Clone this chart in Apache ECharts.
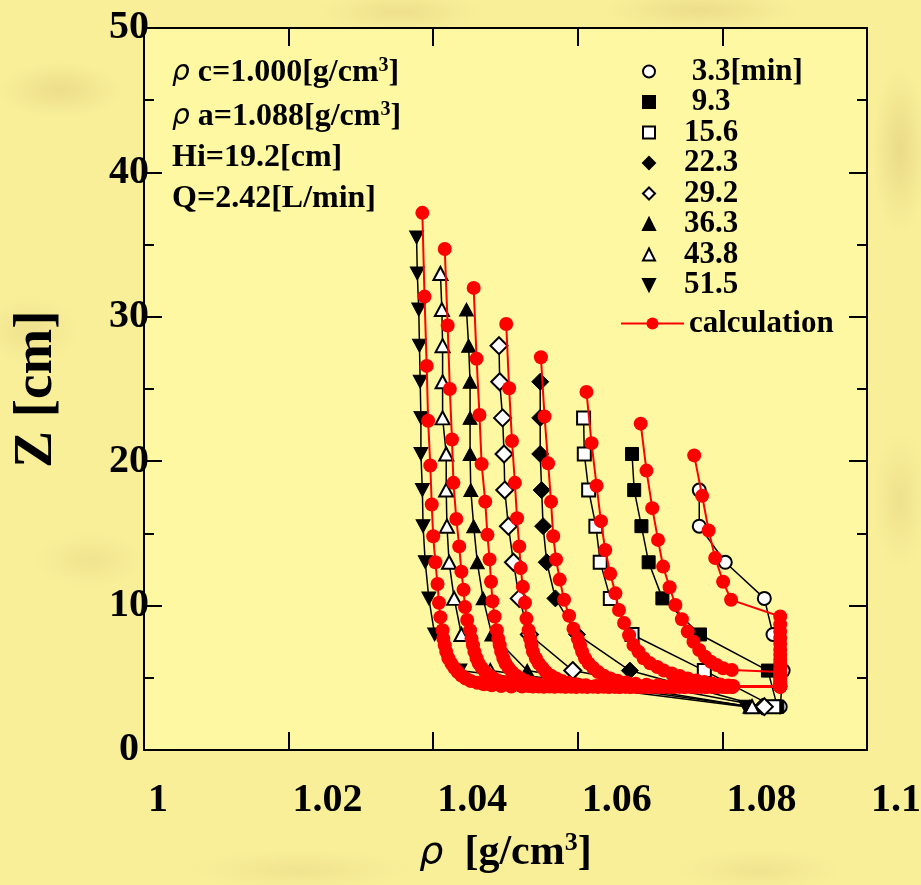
<!DOCTYPE html>
<html>
<head>
<meta charset="utf-8">
<script src="https://cdn.jsdelivr.net/npm/echarts@6/dist/echarts.min.js"></script>
<style>
html, body { margin: 0; padding: 0; }
body {
  width: 921px; height: 885px; overflow: hidden;
  background-color: #f9ef99;
  background-image:
    radial-gradient(ellipse 90px 40px at 60px 90px, rgba(220,200,120,.45), transparent 70%),
    radial-gradient(ellipse 70px 50px at 30px 330px, rgba(225,205,125,.4), transparent 70%),
    radial-gradient(ellipse 80px 40px at 90px 560px, rgba(225,205,125,.35), transparent 70%),
    radial-gradient(ellipse 120px 30px at 400px 12px, rgba(220,200,120,.4), transparent 70%),
    radial-gradient(ellipse 140px 30px at 700px 10px, rgba(220,200,120,.45), transparent 70%),
    radial-gradient(ellipse 40px 120px at 900px 150px, rgba(215,195,115,.45), transparent 70%),
    radial-gradient(ellipse 40px 100px at 900px 500px, rgba(220,200,120,.35), transparent 70%),
    radial-gradient(ellipse 160px 30px at 300px 870px, rgba(225,205,125,.35), transparent 70%),
    radial-gradient(ellipse 120px 30px at 760px 870px, rgba(225,205,125,.35), transparent 70%);
}
#chart { width: 921px; height: 885px; }
</style>
</head>
<body>
<div id="chart"></div>
<script>
// 图例名称（时间）
const times = ['3.3[min]', '9.3', '15.6', '22.3', '29.2', '36.3', '43.8', '51.5'];

// 实验数据 [ρ, Z]
const exp33 = [[1.0768,18.0],[1.0768,15.5],[1.0804,13.0],[1.0858,10.5],[1.0870,8.0],[1.0884,5.5],[1.0880,3.0]];
const exp93 = [[1.0675,20.5],[1.0678,18.0],[1.0688,15.5],[1.0698,13.0],[1.0717,10.5],[1.0769,8.0],[1.0863,5.5],[1.0876,3.0]];
const exp156 = [[1.0608,23.0],[1.0609,20.5],[1.0615,18.0],[1.0625,15.5],[1.0631,13.0],[1.0645,10.5],[1.0675,8.0],[1.0775,5.5],[1.0871,3.0]];
const exp223 = [[1.0548,25.5],[1.0548,23.0],[1.0548,20.5],[1.0550,18.0],[1.0552,15.5],[1.0557,13.0],[1.0569,10.5],[1.0599,8.0],[1.0672,5.5],[1.0855,3.0]];
const exp292 = [[1.0491,28.0],[1.0492,25.5],[1.0496,23.0],[1.0498,20.5],[1.0499,18.0],[1.0504,15.5],[1.0511,13.0],[1.0519,10.5],[1.0533,8.0],[1.0593,5.5],[1.0858,3.0]];
const exp363 = [[1.0446,30.5],[1.0449,28.0],[1.0451,25.5],[1.0451,23.0],[1.0451,20.5],[1.0452,18.0],[1.0456,15.5],[1.0461,13.0],[1.0469,10.5],[1.0481,8.0],[1.0530,5.5],[1.0838,3.0]];
const exp438 = [[1.0410,33.0],[1.0412,30.5],[1.0413,28.0],[1.0413,25.5],[1.0413,23.0],[1.0418,20.5],[1.0418,18.0],[1.0419,15.5],[1.0422,13.0],[1.0429,10.5],[1.0439,8.0],[1.0479,5.5],[1.0841,3.0]];
const exp515 = [[1.0377,35.5],[1.0378,33.0],[1.0380,30.5],[1.0381,28.0],[1.0382,25.5],[1.0383,23.0],[1.0383,20.5],[1.0385,18.0],[1.0386,15.5],[1.0389,13.0],[1.0394,10.5],[1.0402,8.0],[1.0437,5.5],[1.0832,3.0]];

// 计算值 [ρ, Z]
const calc33 = [[1.0761,20.4],[1.0772,17.6],[1.0781,15.2],[1.0790,13.3],[1.0801,11.65],[1.0812,10.4],
  [1.0880,9.25],[1.0880,8.7],[1.0880,8.2],[1.0880,7.75],[1.0880,7.35],[1.0880,6.95],[1.0880,6.6],[1.0880,6.25],
  [1.0880,5.95],[1.0880,5.65],[1.0880,5.4],[1.0880,5.15],[1.0880,4.95],[1.0880,4.75],[1.0880,4.6],[1.0880,4.48],[1.0880,4.4]];
const calc93 = [[1.0687,22.6],[1.0695,19.35],[1.0703,16.75],[1.0711,14.55],[1.0718,12.7],[1.0727,11.27],[1.0735,10.04],
  [1.0744,9.05],[1.0752,8.2],[1.0760,7.5],[1.0768,6.93],[1.0776,6.46],[1.0784,6.11],[1.0792,5.89],[1.0801,5.66],[1.0813,5.54],[1.0880,5.4]];
const calc156 = [[1.0612,24.8],[1.0619,21.25],[1.0626,18.3],[1.0632,15.85],[1.0638,13.85],[1.0645,12.2],[1.0652,10.85],
  [1.0657,9.7],[1.0664,8.8],[1.0671,7.95],[1.0677,7.27],[1.0684,6.8],[1.0691,6.35],[1.0700,6.0],[1.0710,5.75],[1.0719,5.5],
  [1.0730,5.3],[1.0741,5.12],[1.0752,4.95],[1.0764,4.81],[1.0775,4.71],[1.0786,4.6],[1.0797,4.54],[1.0808,4.47],[1.0815,4.43],[1.0880,4.42]];
const calc223 = [[1.0549,27.2],[1.0554,23.1],[1.0559,19.85],[1.0563,17.2],[1.0566,14.8],[1.0570,13.2],[1.0575,11.8],[1.0581,10.4],
  [1.0588,9.3],[1.0594,8.4],[1.0600,7.7],[1.0603,7.25],[1.0606,6.8],[1.0610,6.35],[1.0615,6.0],[1.0621,5.7],[1.0628,5.4],
  [1.0636,5.15],[1.0645,4.95],[1.0655,4.8],[1.0667,4.68],[1.0680,4.58],[1.0695,4.52],[1.0711,4.48],[1.0728,4.45],
  [1.0743,4.44],[1.0758,4.43],[1.0773,4.43],[1.0788,4.43],[1.0801,4.43],[1.0812,4.43],[1.0880,4.42]];
const calc292 = [[1.0501,29.5],[1.0505,25.05],[1.0509,21.4],[1.0513,18.5],[1.0516,16.05],[1.0519,14.1],[1.0521,12.6],[1.0524,11.3],
  [1.0527,10.2],[1.0529,9.1],[1.0532,8.3],[1.0534,7.7],[1.0536,7.25],[1.0538,6.8],[1.0542,6.35],[1.0546,6.0],[1.0551,5.7],
  [1.0556,5.4],[1.0563,5.15],[1.0570,4.95],[1.0578,4.78],[1.0587,4.65],[1.0598,4.55],[1.0611,4.48],[1.0625,4.43],[1.0641,4.41],
  [1.0656,4.4],[1.0671,4.4],[1.0686,4.39],[1.0701,4.39],[1.0716,4.39],[1.0731,4.39],[1.0746,4.39],[1.0761,4.39],[1.0776,4.39],
  [1.0791,4.39],[1.0804,4.39],[1.0814,4.39],[1.0880,4.4]];
const calc363 = [[1.0456,32.0],[1.0460,27.1],[1.0464,23.2],[1.0467,19.8],[1.0472,17.2],[1.0475,14.9],[1.0478,13.2],[1.0480,11.65],
  [1.0482,10.3],[1.0485,9.25],[1.0488,8.3],[1.0490,7.7],[1.0492,7.25],[1.0494,6.8],[1.0497,6.35],[1.0500,6.0],[1.0504,5.7],
  [1.0509,5.4],[1.0515,5.15],[1.0521,4.95],[1.0528,4.78],[1.0536,4.65],[1.0546,4.55],[1.0557,4.48],[1.0569,4.43],[1.0583,4.4],
  [1.0598,4.39],[1.0613,4.39],[1.0628,4.39],[1.0643,4.38],[1.0658,4.38],[1.0673,4.38],[1.0688,4.38],[1.0703,4.38],[1.0718,4.38],
  [1.0733,4.38],[1.0748,4.38],[1.0763,4.38],[1.0778,4.38],[1.0793,4.38],[1.0806,4.38],[1.0814,4.38],[1.0880,4.39]];
const calc438 = [[1.0416,34.7],[1.0420,29.4],[1.0423,25.0],[1.0426,21.5],[1.0428,18.5],[1.0432,16.0],[1.0436,14.1],[1.0439,12.35],
  [1.0442,11.1],[1.0444,9.9],[1.0447,9.0],[1.0451,8.3],[1.0453,7.7],[1.0455,7.25],[1.0457,6.8],[1.0460,6.35],[1.0463,6.0],
  [1.0467,5.7],[1.0472,5.4],[1.0478,5.15],[1.0484,4.95],[1.0491,4.78],[1.0499,4.65],[1.0509,4.55],[1.0520,4.48],[1.0532,4.43],
  [1.0546,4.4],[1.0561,4.39],[1.0576,4.39],[1.0591,4.38],[1.0606,4.38],[1.0621,4.38],[1.0636,4.38],[1.0651,4.37],[1.0666,4.37],
  [1.0681,4.37],[1.0696,4.37],[1.0711,4.37],[1.0726,4.37],[1.0741,4.37],[1.0756,4.37],[1.0771,4.37],[1.0786,4.37],[1.0800,4.37],
  [1.0812,4.37],[1.0880,4.38]];
const calc515 = [[1.0385,37.2],[1.0388,31.4],[1.0391,26.6],[1.0393,22.8],[1.0396,19.7],[1.0398,17.0],[1.0400,14.8],[1.0403,13.0],
  [1.0406,11.5],[1.0408,10.2],[1.0410,9.2],[1.0413,8.3],[1.0414,7.7],[1.0416,7.25],[1.0418,6.8],[1.0421,6.35],[1.0425,6.0],
  [1.0429,5.7],[1.0434,5.4],[1.0439,5.15],[1.0445,4.95],[1.0452,4.78],[1.0461,4.65],[1.0470,4.55],[1.0481,4.48],[1.0494,4.43],
  [1.0508,4.4],[1.0523,4.39],[1.0538,4.39],[1.0553,4.38],[1.0568,4.38],[1.0583,4.38],[1.0598,4.37],[1.0613,4.37],[1.0628,4.37],
  [1.0643,4.37],[1.0658,4.36],[1.0673,4.36],[1.0688,4.36],[1.0703,4.36],[1.0718,4.36],[1.0733,4.36],[1.0748,4.36],[1.0763,4.36],
  [1.0778,4.36],[1.0793,4.36],[1.0805,4.36],[1.0813,4.36],[1.0880,4.38]];

// 条件说明文字
const notes = [
  '{r|ρ}{b| c=1.000[g/cm}{s|3}{b|]}',
  '{r|ρ}{b| a=1.088[g/cm}{s|3}{b|]}',
  '{b|Hi=19.2[cm]}',
  '{b|Q=2.42[L/min]}'
];

const expData = [exp33, exp93, exp156, exp223, exp292, exp363, exp438, exp515];
const calcData = [calc33, calc93, calc156, calc223, calc292, calc363, calc438, calc515];

const SERIF = 'Liberation Serif';
const P = {
  circle: 'path://M0,5A5,5 0 1,1 10,5A5,5 0 1,1 0,5Z',
  square: 'path://M0,0H10V10H0Z',
  diamond: 'path://M5,0L10,5L5,10L0,5Z',
  up: 'path://M5,0L10,10L0,10Z',
  down: 'path://M0,0L10,0L5,10Z'
};
// 标记样式
const markers = [
  { icon: P.circle, symbol: 'circle', size: 13, fill: '#fff' },
  { icon: P.square, symbol: 'rect', size: 13, fill: '#000' },
  { icon: P.square, symbol: 'rect', size: 13, fill: '#fff' },
  { icon: P.diamond, symbol: 'diamond', size: 17, fill: '#000' },
  { icon: P.diamond, symbol: 'diamond', size: 17, fill: '#fff' },
  { icon: P.up, symbol: 'triangle', size: [14, 13], fill: '#000' },
  { icon: P.up, symbol: 'triangle', size: [14, 13], fill: '#fff' },
  { icon: P.down, symbol: P.down, size: [14, 13], fill: '#000' }
];

const expSeries = expData.map((d, i) => ({
  name: times[i],
  type: 'line',
  data: d,
  z: 2,
  symbol: markers[i].symbol,
  symbolSize: markers[i].size,
  lineStyle: { color: '#000', width: 1.5 },
  itemStyle: { color: markers[i].fill, borderColor: '#000', borderWidth: markers[i].fill === '#fff' ? 2 : 1 },
  emphasis: { disabled: true },
  silent: true
}));

const calcSeries = calcData.map(d => ({
  name: 'calculation',
  type: 'line',
  data: d,
  z: 3,
  symbol: 'circle',
  symbolSize: 14,
  lineStyle: { color: '#ff0000', width: 2 },
  itemStyle: { color: '#ff0000', borderWidth: 0 },
  emphasis: { disabled: true },
  silent: true
}));

const tickStyle = { color: '#000', width: 2 };
const labelFont = { fontFamily: SERIF, fontWeight: 'bold', color: '#000' };
const richText = {
  r: { fontFamily: 'DejaVu Sans', fontStyle: 'italic', fontSize: 28, fill: '#000', lineHeight: 34 },
  b: { fontFamily: SERIF, fontWeight: 'bold', fontSize: 32, fill: '#000', lineHeight: 34 },
  s: { fontFamily: SERIF, fontWeight: 'bold', fontSize: 20, fill: '#000', verticalAlign: 'top' }
};
const legendText = { fontFamily: SERIF, fontWeight: 'bold', fontSize: 31, color: '#000', lineHeight: 28 };

const option = {
  animation: false,
  backgroundColor: 'transparent',
  grid: {
    left: 144, top: 28, width: 723, height: 722,
    containLabel: false, outerBoundsMode: 'none',
    show: true, backgroundColor: '#fff8a2', borderWidth: 0
  },
  xAxis: [{
    type: 'value', min: 1, max: 1.1, interval: 0.02, position: 'bottom',
    axisLine: { show: true, onZero: false, lineStyle: tickStyle },
    axisTick: { show: true, inside: true, length: 18, lineStyle: tickStyle },
    axisLabel: Object.assign({ show: true, margin: 31, align: 'left', padding: [0, 0, 0, 4], fontSize: 40 }, labelFont),
    splitLine: { show: false },
    name: '{r|ρ}{b|  [g/cm}{s|3}{b|]}',
    nameLocation: 'middle', nameGap: 80,
    nameTextStyle: {
      rich: {
        r: { fontFamily: 'DejaVu Sans', fontStyle: 'italic', fontSize: 38, color: '#000', lineHeight: 46 },
        b: { fontFamily: SERIF, fontWeight: 'bold', fontSize: 42, color: '#000', lineHeight: 46 },
        s: { fontFamily: SERIF, fontWeight: 'bold', fontSize: 26, color: '#000', verticalAlign: 'top' }
      }
    }
  }, {
    type: 'value', min: 1, max: 1.1, interval: 0.02, position: 'top',
    axisLine: { show: true, onZero: false, lineStyle: tickStyle },
    axisTick: { show: true, inside: true, length: 18, lineStyle: tickStyle },
    axisLabel: { show: false },
    splitLine: { show: false }
  }],
  yAxis: [{
    type: 'value', min: 0, max: 50, interval: 10, position: 'left',
    axisLine: { show: true, onZero: false, lineStyle: tickStyle },
    axisTick: { show: true, inside: true, length: 18, lineStyle: tickStyle },
    minorTick: { show: true, splitNumber: 2, length: 10, lineStyle: tickStyle },
    axisLabel: Object.assign({ show: true, margin: 15, align: 'center', fontSize: 40 }, labelFont),
    splitLine: { show: false },
    minorSplitLine: { show: false },
    name: 'Z [cm]', nameLocation: 'middle', nameGap: 80, nameRotate: 90,
    nameTextStyle: Object.assign({ fontSize: 55 }, labelFont)
  }, {
    type: 'value', min: 0, max: 50, interval: 10, position: 'right',
    axisLine: { show: true, onZero: false, lineStyle: tickStyle },
    axisTick: { show: true, inside: true, length: 18, lineStyle: tickStyle },
    minorTick: { show: true, splitNumber: 2, length: 10, lineStyle: tickStyle },
    axisLabel: { show: false },
    splitLine: { show: false },
    minorSplitLine: { show: false }
  }],
  legend: [{
    data: times.map((t, i) => ({ name: t, icon: markers[i].icon })),
    orient: 'vertical', left: 642, top: 56, padding: 0,
    itemWidth: 60, itemHeight: 12, itemGap: -0.5,
    selectedMode: false,
    formatter: n => (n.indexOf('3.3') === 0 || n === '9.3') ? ' ' + n : n,
    textStyle: legendText
  }, {
    data: ['calculation'],
    orient: 'vertical', left: 620, top: 308, padding: 0,
    itemWidth: 63, itemHeight: 15,
    selectedMode: false,
    textStyle: legendText
  }],
  graphic: notes.map((t, i) => ({
    type: 'text',
    left: 172,
    top: [56, 100, 142, 183][i],
    silent: true,
    style: { text: t, rich: richText, fill: '#000' }
  })),
  series: expSeries.concat(calcSeries)
};

const chart = echarts.init(document.getElementById('chart'));
chart.setOption(option);
</script>
</body>
</html>
